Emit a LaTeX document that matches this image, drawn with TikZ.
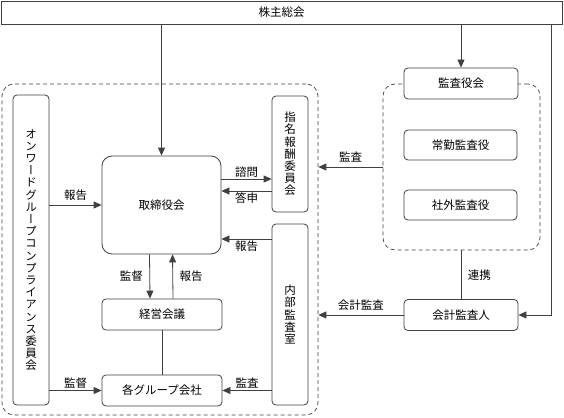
\documentclass[tikz,border=0pt]{standalone}
\usepackage{fontspec}
\setmainfont{Noto Sans CJK JP}
\newfontfamily\tatefont[RawFeature=+vert]{Noto Sans CJK JP}
\usepackage{tikz}
\usetikzlibrary{positioning}
\usetikzlibrary{arrows.meta}
\tikzstyle{plainbox}=[draw=black!75,fill=white,line width=0.8pt,inner sep=0pt,font=\fontsize{11.5}{13}\selectfont]
\tikzstyle{box}=[plainbox,rounded corners=4pt]
\tikzstyle{bigbox}=[plainbox,rounded corners=10pt]
\tikzstyle{tatebox}=[box,align=center,font=\tatefont\fontsize{11.5}{12.2}\selectfont]
\tikzstyle{group}=[draw=black!75,line width=0.7pt,dash pattern=on 4pt off 3pt,rounded corners=12pt,inner sep=0pt]
\tikzstyle{edge}=[draw=black!75,line width=0.8pt,-{Triangle[length=8pt,width=7pt]}]
\tikzstyle{link}=[draw=black!75,line width=0.8pt]
\tikzstyle{weight}=[font=\fontsize{11.5}{13}\selectfont,inner sep=1.5pt]

\begin{document}
\begin{tikzpicture}[x=1pt,y=-1pt]

    \useasboundingbox (0,0) rectangle (564,417);

    % groups
    \node[group, minimum width=316pt, minimum height=331pt] (G1) at (160,249.5) {};
    \node[group, minimum width=157pt, minimum height=166pt] (G2) at (461.5,167) {};

    \node[plainbox, minimum width=561pt, minimum height=23pt] (S) at (281.5,12.5) {株主総会};

    \node[bigbox, minimum width=119pt, minimum height=98pt] (B) at (161.5,205) {取締役会};
    \node[box, minimum width=120pt, minimum height=31pt] (M) at (162,314.5) {経営会議};
    \node[box, minimum width=120pt, minimum height=31pt] (C) at (162,390.5) {各グループ会社};

    \node[tatebox, minimum width=36pt, minimum height=310pt] (Q) at (31,250)
        {オ\\ン\\ワ\\ー\\ド\\グ\\ル\\ー\\プ\\コ\\ン\\プ\\ラ\\イ\\ア\\ン\\ス\\委\\員\\会};
    \node[tatebox, minimum width=36pt, minimum height=116pt] (N) at (290,154) {指\\名\\報\\酬\\委\\員\\会};
    \node[tatebox, minimum width=36pt, minimum height=181pt] (I) at (290,314.5) {内\\部\\監\\査\\室};

    \node[box, minimum width=114pt, minimum height=31pt] (K) at (461,83.5) {監査役会};
    \node[box, minimum width=113pt, minimum height=30pt] (K1) at (460.5,145) {常勤監査役};
    \node[box, minimum width=113pt, minimum height=30pt] (K2) at (460.5,205) {社外監査役};
    \node[box, minimum width=114pt, minimum height=31pt] (A) at (461,315) {会計監査人};

    \coordinate (E) at (551.5,315);
    \coordinate (B1) at ([yshift=26pt]B.east);
    \coordinate (B2) at ([yshift=14pt]B.east);
    \coordinate (B3) at ([yshift=-34pt]B.east);

    % shareholders
    \draw[edge] (S.south -| B.north) -- (B.north);
    \draw[edge] (S.south -| K.north) -- (K.north);
    \draw[edge] (S.south -| E) -- (E) -- (A.east);

    % board
    \path[edge] (Q.east |- B.west) -- node[weight, above=3pt]{報告} (B.west);
    \path[edge] (B1) -- node[weight, above]{諮問} (N.west |- B1);
    \path[edge] (N.west |- B2) -- node[weight, below]{答申} (B2);
    \path[edge] (I.west |- B3) -- node[weight, below]{報告} (B3);
    \path[edge] ([xshift=-12pt]B.south) -- node[weight, left=5pt]{監督} ([xshift=-12pt]M.north);
    \path[edge] ([xshift=11pt]M.north) -- node[weight, right=5pt]{報告} ([xshift=11pt]B.south);
    \path[link] (M) -- (C);
    \path[edge] (Q.east |- C.west) -- node[weight, above]{監督} (C.west);
    \path[edge] (I.west |- C.east) -- node[weight, above]{監査} (C.east);

    % audit
    \path[edge] (G2.west) -- node[weight, above=3pt]{監査} (G1.east |- G2.west);
    \path[link] (G2.south -| A.north) -- node[weight, right=5pt]{連携} (A.north);
    \path[edge] (A.west) -- node[weight, above=3pt]{会計監査} (G1.east |- A.west);

\end{tikzpicture}
\end{document}
